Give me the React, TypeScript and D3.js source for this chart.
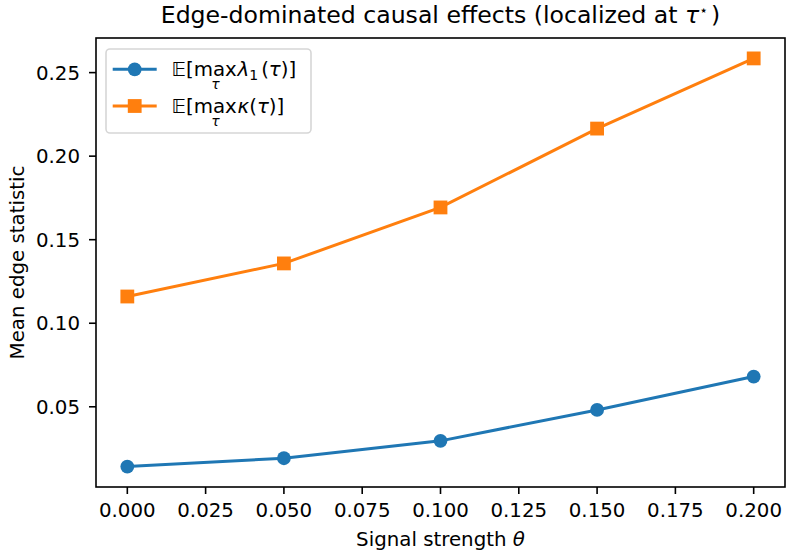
import React from "react";
import * as d3 from "d3";

const thetas = [0.0, 0.05, 0.1, 0.15, 0.2];
const lambdaMax = [0.0142, 0.0192, 0.0296, 0.0481, 0.0681];
const kappaMax = [0.116, 0.1358, 0.1693, 0.2165, 0.2585];
const xTicks = [0, 0.025, 0.05, 0.075, 0.1, 0.125, 0.15, 0.175, 0.2];
const yTicks = [0.05, 0.1, 0.15, 0.2, 0.25];

const W = 788;
const H = 553;
const M = { left: 96, right: 785, top: 38, bottom: 487 };
const BLUE = "#1f77b4";
const ORANGE = "#ff7f0e";
const FONT = "DejaVu Sans, sans-serif";
const FS = 19.8;

export default function App() {
  const all = [...lambdaMax, ...kappaMax];
  const ymin = d3.min(all)!;
  const ymax = d3.max(all)!;
  const yPad = (ymax - ymin) * 0.05;
  const xPad = 0.2 * 0.05;
  const x = d3.scaleLinear().domain([0 - xPad, 0.2 + xPad]).range([M.left, M.right]);
  const y = d3.scaleLinear().domain([ymin - yPad, ymax + yPad]).range([M.bottom, M.top]);
  const line = d3
    .line<[number, number]>()
    .x((d) => x(d[0]))
    .y((d) => y(d[1]));
  const blueData: [number, number][] = thetas.map((t, i) => [t, lambdaMax[i]]);
  const orangeData: [number, number][] = thetas.map((t, i) => [t, kappaMax[i]]);
  const mk = 13.8;
  const LW = 3;

  const legX = 106;
  const legY = 49;
  const rows = [69.3, 106];
  const maxW = 2.179 * FS;
  const tauFs = 14;
  const tauW = 0.55 * tauFs;

  const legendLabel = (kind: "lambda" | "kappa") => (
    <text x={171.5} y={0} fontFamily={FONT} fontSize={FS} fill="#000">
      <tspan>𝔼[</tspan>
      <tspan>max</tspan>
      <tspan dx={-maxW / 2 - tauW / 2} dy={13} fontSize={tauFs} fontStyle="italic">τ</tspan>
      <tspan dx={maxW / 2 - tauW / 2} dy={-13} fontStyle="italic">{kind === "lambda" ? "λ" : "κ"}</tspan>
      {kind === "lambda" ? (
        <>
          <tspan dy={4} fontSize={14}>1</tspan>
          <tspan dy={-4} dx={3}>(</tspan>
        </>
      ) : (
        <tspan>(</tspan>
      )}
      <tspan fontStyle="italic">τ</tspan>
      <tspan>)]</tspan>
    </text>
  );

  return (
    <svg width={W} height={H} style={{ position: "absolute", left: 0, top: 0 }}>
      <rect width={W} height={H} fill="#fff" />
      {/* title */}
      <text x={(M.left + M.right) / 2} y={23.3} textAnchor="middle" fontFamily={FONT} fontSize={23.6}>
        Edge-dominated causal effects (localized at <tspan fontStyle="italic">τ</tspan>
        <tspan dy={-8} fontSize={14}>⋆</tspan>
        <tspan dy={8} dx={3}>)</tspan>
      </text>
      {/* axes frame */}
      <rect x={M.left} y={M.top} width={M.right - M.left} height={M.bottom - M.top} fill="none" stroke="#000" strokeWidth={1.6} />
      {/* x ticks */}
      {xTicks.map((t) => (
        <g key={"x" + t}>
          <line x1={x(t)} x2={x(t)} y1={M.bottom} y2={M.bottom + 7} stroke="#000" strokeWidth={1.6} />
          <text x={x(t)} y={517.3} textAnchor="middle" fontFamily={FONT} fontSize={FS}>
            {t.toFixed(3)}
          </text>
        </g>
      ))}
      {/* y ticks */}
      {yTicks.map((t) => (
        <g key={"y" + t}>
          <line x1={M.left - 7} x2={M.left} y1={y(t)} y2={y(t)} stroke="#000" strokeWidth={1.6} />
          <text x={M.left - 16} y={y(t) + 7.2} textAnchor="end" fontFamily={FONT} fontSize={FS}>
            {t.toFixed(2)}
          </text>
        </g>
      ))}
      {/* axis labels */}
      <text x={(M.left + M.right) / 2} y={546} textAnchor="middle" fontFamily={FONT} fontSize={FS}>
        Signal strength <tspan fontStyle="italic">θ</tspan>
      </text>
      <text
        transform={`translate(24,${(M.top + M.bottom) / 2}) rotate(-90)`}
        textAnchor="middle"
        fontFamily={FONT}
        fontSize={FS}
      >
        Mean edge statistic
      </text>
      {/* lines */}
      <path d={line(blueData)!} fill="none" stroke={BLUE} strokeWidth={LW} />
      {blueData.map((d, i) => (
        <circle key={"b" + i} cx={x(d[0])} cy={y(d[1])} r={mk / 2} fill={BLUE} />
      ))}
      <path d={line(orangeData)!} fill="none" stroke={ORANGE} strokeWidth={LW} />
      {orangeData.map((d, i) => (
        <rect key={"o" + i} x={x(d[0]) - mk / 2} y={y(d[1]) - mk / 2} width={mk} height={mk} fill={ORANGE} />
      ))}
      {/* legend */}
      <rect x={legX} y={legY} width={205} height={84} rx={4} fill="#fff" fillOpacity={0.8} stroke="#d6d6d6" strokeWidth={1.6} />
      <g transform={`translate(0,${rows[0]})`}>
        <line x1={112.7} x2={156.7} y1={0} y2={0} stroke={BLUE} strokeWidth={LW} />
        <circle cx={134.7} cy={0} r={mk / 2} fill={BLUE} />
        <g transform="translate(0,7)">{legendLabel("lambda")}</g>
      </g>
      <g transform={`translate(0,${rows[1]})`}>
        <line x1={112.7} x2={156.7} y1={0} y2={0} stroke={ORANGE} strokeWidth={LW} />
        <rect x={134.7 - mk / 2} y={-mk / 2} width={mk} height={mk} fill={ORANGE} />
        <g transform="translate(0,7)">{legendLabel("kappa")}</g>
      </g>
    </svg>
  );
}
